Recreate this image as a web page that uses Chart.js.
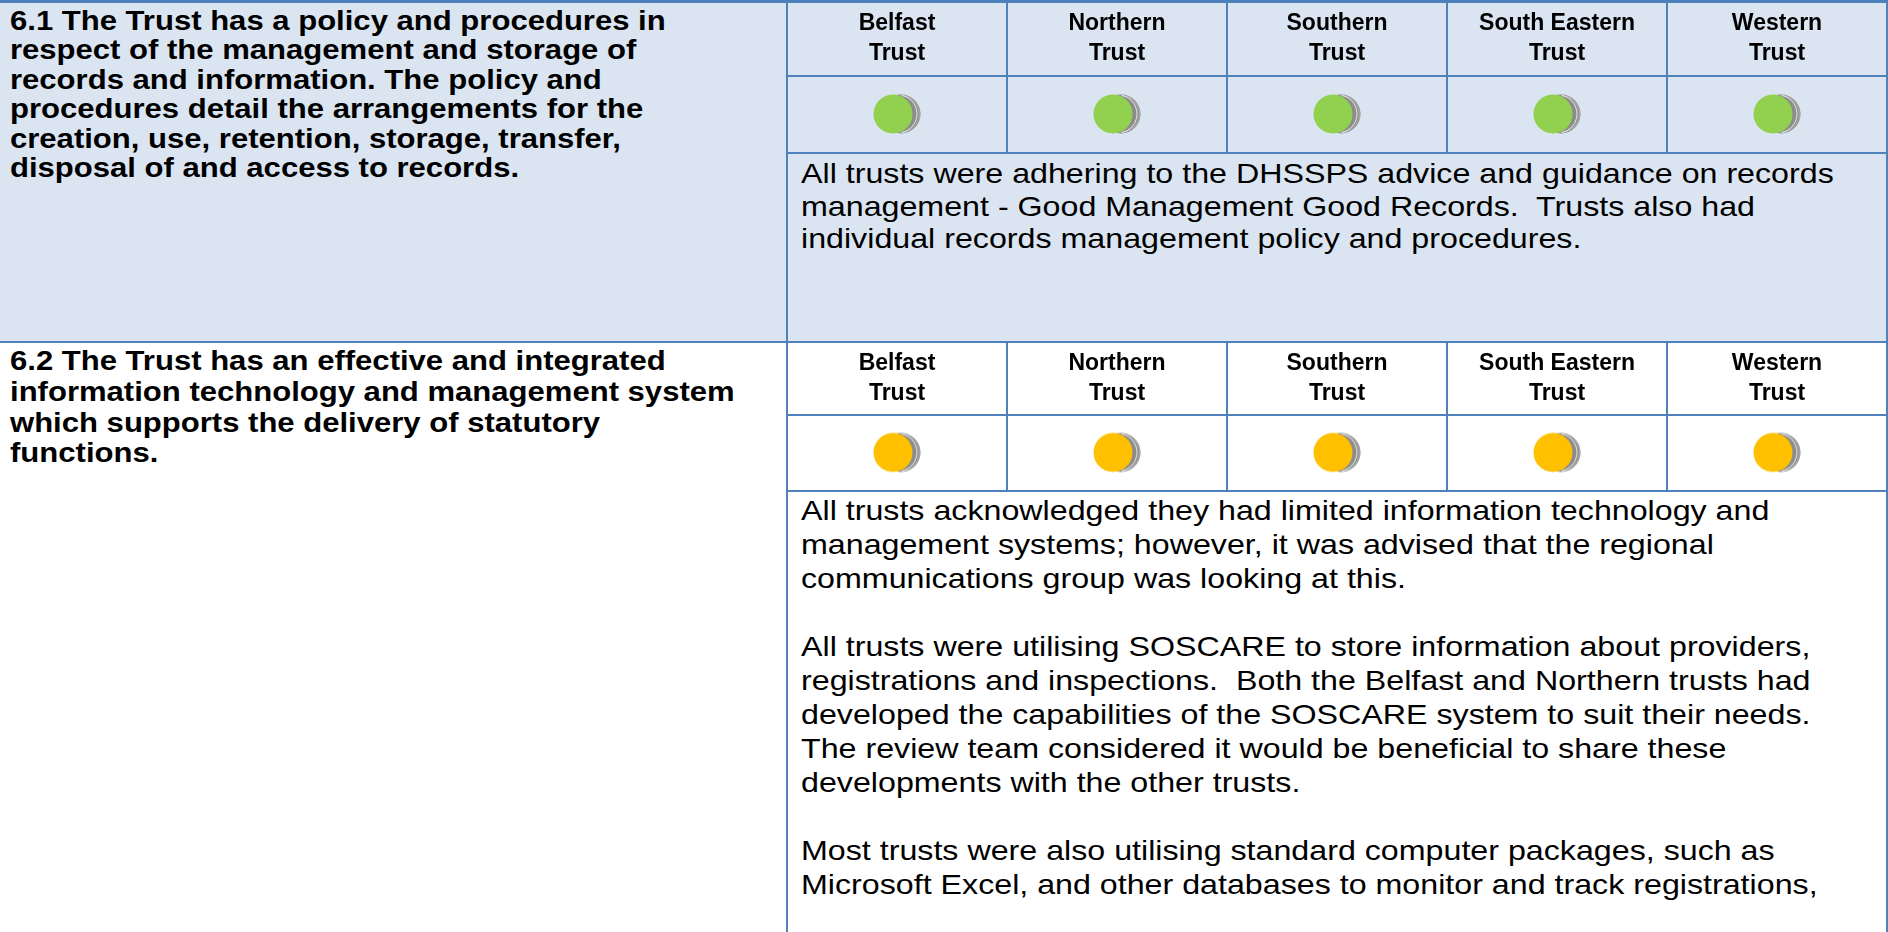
<!DOCTYPE html>
<html>
<head>
<meta charset="utf-8">
<script src="https://cdn.jsdelivr.net/npm/chart.js@4.4.0/dist/chart.umd.min.js"></script>
<style>
  html, body { margin: 0; padding: 0; }
  body {
    width: 1888px; height: 932px; overflow: hidden; position: relative;
    background: #ffffff; font-family: "Liberation Sans", Arial, sans-serif; color: #000;
  }
  .abs { position: absolute; }
  .line { position: absolute; background: #4f81bd; }
  .txt { position: absolute; white-space: pre; transform-origin: 0 0; }
  .bold { font-weight: bold; }
</style>
</head>
<body>
<div class="abs" style="left:0;top:0;width:1888px;height:342px;background:#dbe5f1"></div>

<canvas id="chart61" class="abs" width="1100" height="149" style="left:787px;top:3px"></canvas>
<canvas id="chart62" class="abs" width="1100" height="147" style="left:787px;top:343px"></canvas>

<div id="q61" class="txt bold"></div>
<div id="q62" class="txt bold"></div>
<div id="n61" class="txt"></div>
<div id="n62" class="txt"></div>

<!-- table rules -->
<div class="line" style="left:0;top:0;width:1888px;height:3px"></div>
<div class="line" style="left:0;top:341px;width:1888px;height:2px"></div>
<div class="line" style="left:786px;top:0;width:2px;height:932px"></div>
<div class="line" style="left:1886px;top:0;width:2px;height:932px"></div>
<div class="line" style="left:787px;top:152px;width:1101px;height:2px"></div>
<div class="line" style="left:787px;top:490px;width:1101px;height:2px"></div>

<script>
// trusts across the top of each standard
const trusts = [
  ["Belfast", "Trust"],
  ["Northern", "Trust"],
  ["Southern", "Trust"],
  ["South Eastern", "Trust"],
  ["Western", "Trust"]
];

// rating per trust, same order as above
const ratings61 = ["green", "green", "green", "green", "green"];
const ratings62 = ["amber", "amber", "amber", "amber", "amber"];

const standard61 = [
  "6.1 The Trust has a policy and procedures in",
  "respect of the management and storage of",
  "records and information. The policy and",
  "procedures detail the arrangements for the",
  "creation, use, retention, storage, transfer,",
  "disposal of and access to records."
];
const standard62 = [
  "6.2 The Trust has an effective and integrated",
  "information technology and management system",
  "which supports the delivery of statutory",
  "functions."
];

const notes61 = [
  "All trusts were adhering to the DHSSPS advice and guidance on records",
  "management - Good Management Good Records.  Trusts also had",
  "individual records management policy and procedures."
];
const notes62 = [
  "All trusts acknowledged they had limited information technology and",
  "management systems; however, it was advised that the regional",
  "communications group was looking at this.",
  "",
  "All trusts were utilising SOSCARE to store information about providers,",
  "registrations and inspections.  Both the Belfast and Northern trusts had",
  "developed the capabilities of the SOSCARE system to suit their needs.",
  "The review team considered it would be beneficial to share these",
  "developments with the other trusts.",
  "",
  "Most trusts were also utilising standard computer packages, such as",
  "Microsoft Excel, and other databases to monitor and track registrations,"
];

const ratingColours = { green: "#92d050", amber: "#ffc000" };

// text blocks: the source text is a bit wider than plain Arial, so stretch it
function placeText(id, lines, left, top, size, lineH, stretch) {
  const el = document.getElementById(id);
  el.textContent = lines.join("\n");
  el.style.left = left + "px";
  el.style.top = top + "px";
  el.style.fontSize = size + "px";
  el.style.lineHeight = lineH + "px";
  el.style.transform = "scaleX(" + stretch + ")";
}

placeText("q61", standard61, 10, 7, 27, 29.4, 1.15);
placeText("q62", standard62, 10, 346, 27, 30.8, 1.15);
placeText("n61", notes61, 801, 158, 28, 32.5, 1.15);
placeText("n62", notes62, 801, 494, 28, 34, 1.15);

// little "coin" marker: coloured disc with a grey rim showing on the right
function makeCoin(fill) {
  const c = document.createElement("canvas");
  c.width = 50;
  c.height = 42;
  const g = c.getContext("2d");
  g.fillStyle = "#8c8c8c";
  g.beginPath(); g.arc(29, 21, 19.5, 0, Math.PI * 2); g.fill();
  g.strokeStyle = "#a6a6a6";
  g.lineWidth = 1.5;
  g.beginPath(); g.arc(29, 21, 18.5, -Math.PI / 2, Math.PI / 2); g.stroke();
  g.strokeStyle = "#ffffff";
  g.lineWidth = 0.8;
  g.beginPath(); g.arc(26, 21, 19, -Math.PI / 2.3, Math.PI / 2.3); g.stroke();
  g.fillStyle = fill;
  g.beginPath(); g.arc(21, 21, 19.5, 0, Math.PI * 2); g.fill();
  return c;
}

const coins = {};
Object.keys(ratingColours).forEach(k => { coins[k] = makeCoin(ratingColours[k]); });

function ratingChart(id, ratings, headerHeight) {
  const ctx = document.getElementById(id).getContext("2d");
  return new Chart(ctx, {
    type: "line",
    data: {
      labels: trusts,
      datasets: [{
        data: ratings.map(() => 1),
        showLine: false,
        pointRadius: 20,
        pointStyle: (c) => coins[ratings[c.dataIndex]]
      }]
    },
    options: {
      responsive: false,
      animation: false,
      devicePixelRatio: 1,
      layout: { padding: 0, autoPadding: false },
      clip: false,
      plugins: { legend: { display: false }, tooltip: { enabled: false } },
      scales: {
        x: {
          type: "category",
          position: "top",
          offset: true,
          grid: {
            offset: true,
            color: "#4f81bd",
            lineWidth: 2,
            drawTicks: true,
            tickLength: headerHeight
          },
          border: { display: true, color: "#4f81bd", width: 2 },
          ticks: {
            autoSkip: false,
            maxRotation: 0,
            color: "#000000",
            padding: -66,
            font: { family: "Liberation Sans", size: 23, weight: "bold", lineHeight: 30 / 23 }
          },
          afterFit: (scale) => { scale.height = headerHeight; }
        },
        y: {
          display: false,
          min: 0,
          max: 2
        }
      }
    }
  });
}

ratingChart("chart61", ratings61, 73);
ratingChart("chart62", ratings62, 72);
</script>
</body>
</html>
